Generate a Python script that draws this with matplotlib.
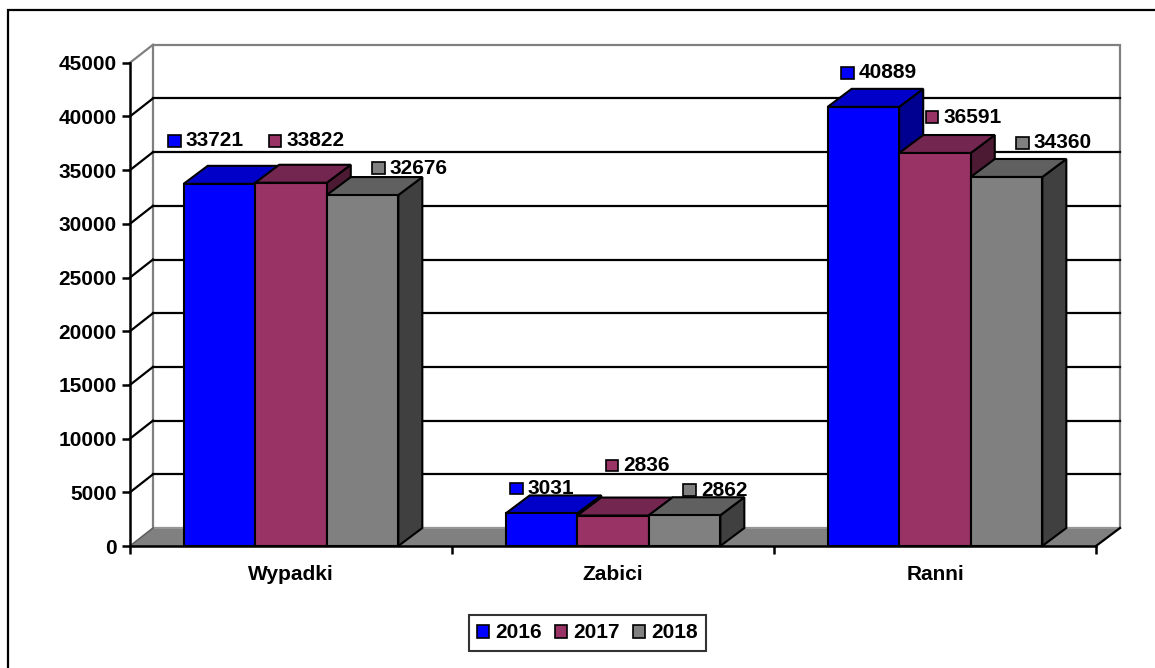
import matplotlib.pyplot as plt
from matplotlib.patches import Polygon, Rectangle, Patch
from matplotlib.offsetbox import AnnotationBbox, HPacker, DrawingArea, TextArea

plt.rcParams['font.family'] = ['Liberation Sans', 'DejaVu Sans']
plt.rcParams['font.weight'] = 'bold'

# dane
kategorie = ["Wypadki", "Zabici", "Ranni"]
lata = ["2016", "2017", "2018"]
w2016 = [33721, 3031, 40889]
w2017 = [33822, 2836, 36591]
w2018 = [32676, 2862, 34360]
y_ticks = list(range(0, 45001, 5000))

# kolory: przod, gora, bok
kolory = [("#0000FF", "#0000C8", "#000090"),
          ("#993366", "#732650", "#4D1A33"),
          ("#808080", "#606060", "#404040")]

# przesuniecia etykiet w pikselach (lewa krawedz kwadratu, srodek tekstu)
przes = [[(-16, 43), (4, 25), (13, 34)],
         [(13, 42), (28, 50), (26, 36)],
         [(45, 27), (34, 25), (45, 34)]]

W, H = 1155, 668
fig = plt.figure(figsize=(W / 100, H / 100), dpi=100)
x0px, x1px, y0px, ytop = 130, 1096, 546, 62.7
ax = fig.add_axes([x0px / W, (H - y0px) / H, (x1px - x0px) / W, (y0px - ytop) / H])
ymax = 45000
ax.set_xlim(0, 3)
ax.set_ylim(0, ymax)

px_x = 3 / (x1px - x0px)
px_y = ymax / (y0px - ytop)
DX = 24 * px_x
DY = 18 * px_y
WDX = 23 * px_x

# sciany i podloga
ax.add_patch(Polygon([(WDX, DY), (3 + DX, DY), (3 + DX, ymax + DY), (WDX, ymax + DY)],
                     closed=True, facecolor="white", edgecolor="#808080", lw=1.6,
                     clip_on=False, zorder=0))
ax.add_patch(Polygon([(0, 0), (3, 0), (3 + DX, DY), (WDX, DY)], closed=True,
                     facecolor="#808080", edgecolor="none", clip_on=False, zorder=1))
ax.plot([WDX, 3 + DX], [DY, DY], color="#9a9a9a", lw=1.2, clip_on=False, zorder=1)
ax.plot([3, 3 + DX], [0, DY], color="black", lw=1.6, clip_on=False, zorder=1)
ax.plot([0, WDX], [0, DY], color="#606060", lw=1.2, clip_on=False, zorder=1)
for v in y_ticks[1:]:
    c = "#808080" if v == ymax else "black"
    ax.plot([0, WDX], [v, v + DY], color=c, lw=1.6, clip_on=False, zorder=1)
    if v < ymax:
        ax.plot([WDX, 3 + DX], [v + DY, v + DY], color="black", lw=1.6,
                clip_on=False, zorder=1)

# slupki 3D
szer = 2 / 9
serie = [w2016, w2017, w2018]
for i, (wart, (cp, cg, cb)) in enumerate(zip(serie, kolory)):
    for k, v in enumerate(wart):
        x = k + 0.5 - 1.5 * szer + i * szer
        z = 3 + i
        ax.add_patch(Polygon([(x + szer, 0), (x + szer + DX, DY), (x + szer + DX, v + DY), (x + szer, v)],
                             closed=True, facecolor=cb, edgecolor="black", lw=1.5,
                             clip_on=False, zorder=z))
        ax.add_patch(Polygon([(x, v), (x + szer, v), (x + szer + DX, v + DY), (x + DX, v + DY)],
                             closed=True, facecolor=cg, edgecolor="black", lw=1.5,
                             clip_on=False, zorder=z))
        ax.add_patch(Rectangle((x, 0), szer, v, facecolor=cp, edgecolor="black", lw=1.5,
                               clip_on=False, zorder=z))
        dx, dy = przes[i][k]
        da = DrawingArea(10, 9.5, 0, 0)
        da.add_artist(Rectangle((0.5, 0.5), 9, 8.5, facecolor=cp, edgecolor="black", lw=1.2))
        ta = TextArea(str(v), textprops=dict(fontsize=15, fontweight="bold", color="black"))
        box = HPacker(children=[da, ta], align="center", pad=0, sep=3)
        ab = AnnotationBbox(box, (x, v), xybox=(dx * 0.72, dy * 0.72),
                            boxcoords="offset points", box_alignment=(0, 0.5),
                            frameon=False, pad=0, annotation_clip=False)
        ab.set_zorder(10)
        ax.add_artist(ab)

# osie
for s in ["top", "right"]:
    ax.spines[s].set_visible(False)
ax.spines["left"].set_linewidth(1.8)
ax.spines["bottom"].set_linewidth(1.8)
ax.spines["left"].set_zorder(8)
ax.spines["bottom"].set_zorder(8)
ax.set_yticks(y_ticks)
ax.set_yticklabels([str(v) for v in y_ticks])
ax.tick_params(axis="y", direction="out", length=6, width=1.8, pad=3.5, labelsize=15)
ax.set_xticks([0, 1, 2, 3])
ax.set_xticklabels([])
ax.set_xticks([0.5, 1.5, 2.5], minor=True)
ax.set_xticklabels(kategorie, minor=True)
ax.tick_params(axis="x", which="major", direction="out", length=6, width=1.8)
ax.tick_params(axis="x", which="minor", length=0, pad=14, labelsize=15)
for t in ax.get_yticklabels() + ax.get_xticklabels(minor=True):
    t.set_fontweight("bold")

# legenda
uchwyty = [Patch(facecolor=k[0], edgecolor="black", lw=1.2) for k in kolory]
leg = fig.legend(uchwyty, lata, loc="center", bbox_to_anchor=(587.5 / W, 1 - 633 / H),
                 ncol=3, frameon=True, fancybox=False, edgecolor="black",
                 handlelength=0.6, handleheight=0.6, handletextpad=0.3,
                 columnspacing=0.6, borderpad=0.4,
                 prop=dict(size=15, weight="bold"))
leg.get_frame().set_linewidth(1.5)

# ramka wykresu
fig.add_artist(Rectangle((8 / W, -0.1), 1.1, 1.1 - 10 / H + 0.0, transform=fig.transFigure,
                         fill=False, edgecolor="black", lw=1.6))

fig.savefig("out.png", dpi=100)
